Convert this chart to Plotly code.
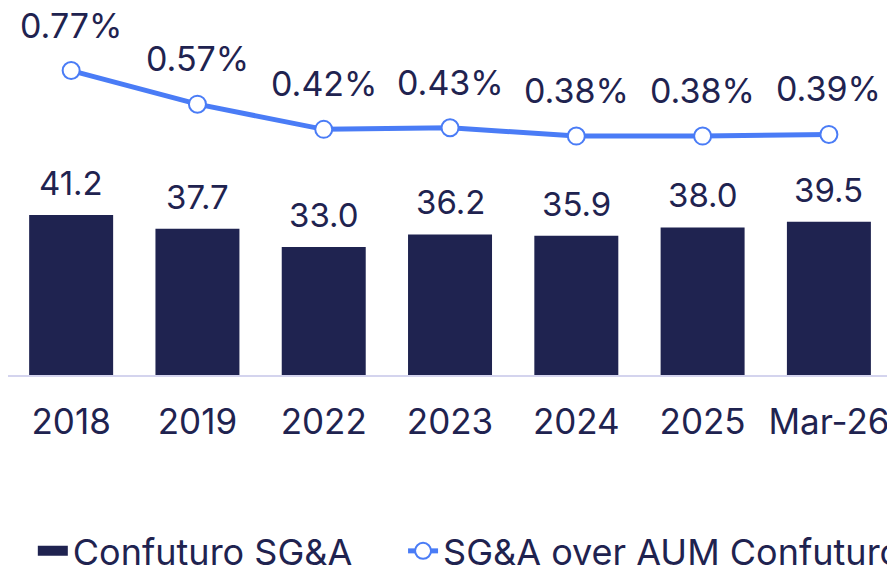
import plotly.graph_objects as go

categories = ["2018", "2019", "2022", "2023", "2024", "2025", "Mar-26"]
sga = [41.2, 37.7, 33.0, 36.2, 35.9, 38.0, 39.5]
sga_aum = [0.77, 0.57, 0.42, 0.43, 0.38, 0.38, 0.39]
sga_labels = ["41.2", "37.7", "33.0", "36.2", "35.9", "38.0", "39.5"]
aum_labels = ["0.77%", "0.57%", "0.42%", "0.43%", "0.38%", "0.38%", "0.39%"]

NAVY = "#1f2350"
BLUE = "#4a7cf6"
FONT = "Inter"

fig = go.Figure()
fig.add_trace(go.Bar(
    x=categories, y=sga, name="Confuturo SG&A",
    marker=dict(color=NAVY, line=dict(width=0)), width=0.665,
    showlegend=False,
))
# legend entry for bars drawn as a wide swatch
fig.add_trace(go.Scatter(
    x=[None], y=[None], name="Confuturo SG&A", mode="lines",
    line=dict(color=NAVY, width=20), showlegend=True, legend="legend",
))
fig.add_trace(go.Scatter(
    x=categories, y=sga_aum, name="SG&A over AUM Confuturo", yaxis="y2",
    mode="lines+markers",
    line=dict(color=BLUE, width=5),
    marker=dict(size=17, color="white", line=dict(color=BLUE, width=2)),
    legend="legend2",
))

ann = []
for i, (v, t) in enumerate(zip(sga, sga_labels)):
    ann.append(dict(x=i, y=v, xref="x", yref="y", text=t, showarrow=False,
                    yanchor="bottom", yshift=10,
                    font=dict(size=33, color=NAVY, family=FONT)))
for i, (v, t) in enumerate(zip(sga_aum, aum_labels)):
    ann.append(dict(x=i, y=v, xref="x", yref="y2", text=t, showarrow=False,
                    yanchor="bottom", yshift=23,
                    font=dict(size=34, color=NAVY, family=FONT)))

legend_common = dict(orientation="h", xref="container", yref="container",
                     xanchor="left", y=0.03, yanchor="middle",
                     font=dict(size=36, color=NAVY, family=FONT))

fig.update_layout(
    width=887, height=568,
    margin=dict(l=8, r=0, t=0, b=193, autoexpand=False),
    paper_bgcolor="white", plot_bgcolor="white",
    font=dict(family=FONT, color=NAVY, size=34),
    annotations=ann,
    xaxis=dict(type="category", range=[-0.5, 6.46], showgrid=False, showline=True,
               linecolor="#d4d4ee", linewidth=2, ticks="",
               tickfont=dict(size=35, color=NAVY, family=FONT),
               ticklabelstandoff=15, fixedrange=True),
    yaxis=dict(range=[0, 96.6], visible=False, showgrid=False, fixedrange=True),
    yaxis2=dict(range=[-1.042, 1.190], overlaying="y", visible=False,
                showgrid=False, fixedrange=True),
    legend=dict(x=0.037, **legend_common),
    legend2=dict(x=0.4544, **legend_common),
    showlegend=True,
)

fig.write_html("out.html", config={"displayModeBar": False},
               post_script="document.body.style.margin='0';document.body.style.overflow='hidden';")
